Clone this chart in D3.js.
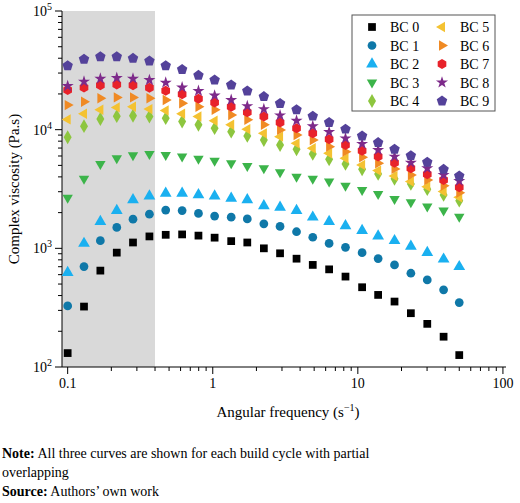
<!DOCTYPE html>
<html><head><meta charset="utf-8">
<script src="https://cdn.jsdelivr.net/npm/d3@7"></script>
<style>body{margin:0;background:#fff}svg{font-family:"Liberation Serif","Times New Roman",serif}</style>
</head><body>
<svg id="chart" width="520" height="503"></svg>
<script>
const freq = [0.1,0.1296,0.168,0.218,0.282,0.366,0.474,0.615,0.797,1.03,1.34,1.73,2.25,2.91,3.78,4.89,6.34,8.22,10.7,13.8,17.9,23.2,30.1,39.0,50.0];
const bc0 = [131,323,649,920,1120,1260,1300,1310,1280,1230,1150,1120,1000,908,818,725,665,578,470,405,356,284,231,180,126];
const bc1 = [327,702,1160,1500,1760,1940,2100,2080,1970,1870,1830,1770,1610,1530,1380,1240,1100,1020,920,820,725,617,542,447,349];
const bc2 = [625,1100,1680,2080,2560,2760,2910,2910,2820,2760,2640,2560,2280,2220,2080,1830,1680,1550,1410,1270,1160,1040,920,810,700];
const bc3 = [2670,3850,5140,5740,6080,6240,6120,5930,5700,5480,5210,4940,4730,4380,4020,3850,3650,3360,3100,2870,2610,2440,2250,2080,1850];
const bc4 = [8630,10700,12300,13000,13100,12900,12500,11700,11000,10300,9620,8850,8180,7430,6840,6240,5620,5140,4630,4240,3850,3490,3150,2820,2520];
const bc5 = [12200,13600,14700,15400,15600,14900,14500,13600,12900,11900,11000,10100,9310,8730,7670,6970,6320,5740,5050,4520,4070,3650,3310,3010,2690];
const bc6 = [16100,17200,18400,18700,18700,18400,17800,16700,15600,14700,13300,12100,11000,9950,9020,8180,7190,6530,5850,5210,4670,4150,3770,3360,2940];
const bc7 = [21600,22700,23700,24000,23700,22600,21300,19900,18200,16900,15600,14000,12900,11500,10300,9310,8300,7430,6650,5930,5270,4730,4210,3770,3270];
const bc8 = [23300,25400,26900,27300,26900,26200,24900,22700,21200,19400,17800,15800,14900,13200,11900,10700,9570,8450,7590,6750,5930,5270,4730,4150,3700];
const bc9 = [34600,39200,41200,41200,39900,37900,34600,32100,28700,26200,23800,21200,19000,16600,14700,13000,11500,10100,8850,7780,6840,6040,5310,4630,4070];
const seriesNames = ["BC 0","BC 1","BC 2","BC 3","BC 4","BC 5","BC 6","BC 7","BC 8","BC 9"];
const seriesValues = [bc0,bc1,bc2,bc3,bc4,bc5,bc6,bc7,bc8,bc9];
const colors = ["#000000","#0f78a8","#1ab0f0","#3cb44a","#8dc63f","#f4c232","#f08a24","#e8222a","#7d2a8a","#54429a"];
const xTicks = [0.1,1,10,100];
const yTicks = [100,1000,10000,100000];
const shadeEnd = 0.4;

const svg = d3.select("#chart");
const pl = 62, pr = 506, pt = 11, pb = 367;
const x = d3.scaleLog().domain([0.0914, 105]).range([pl, pr]);
const y = d3.scaleLog().domain([100, 100000]).range([pb, pt]);

svg.append("rect").attr("x", pl).attr("y", pt)
    .attr("width", x(shadeEnd) - pl).attr("height", pb - pt).attr("fill", "#d9d9d9");

// axes
const xMinor = [];
for (let e = -2; e <= 2; e++) for (let m = 1; m < 10; m++) { const v = +(m * Math.pow(10, e)).toPrecision(3); if (v >= 0.0914 && v <= 105) xMinor.push(v); }
const yMinor = [];
for (let e = 2; e <= 4; e++) for (let m = 1; m < 10; m++) yMinor.push(m * Math.pow(10, e));
yMinor.push(100000);

const gx = svg.append("g").attr("transform", `translate(0,${pb})`);
gx.append("line").attr("x1", pl).attr("x2", pr).attr("stroke", "#000");
gx.selectAll(".mi").data(xMinor).enter().append("line")
    .attr("x1", d => x(d)).attr("x2", d => x(d)).attr("y1", 0).attr("y2", d => xTicks.includes(d) ? 7 : 4).attr("stroke", "#000");
gx.selectAll("text").data(xTicks).enter().append("text")
    .attr("x", d => x(d)).attr("y", 21).attr("text-anchor", "middle").attr("font-size", 14).text(d => d);

const gy = svg.append("g");
gy.append("line").attr("x1", pl).attr("x2", pl).attr("y1", pt).attr("y2", pb).attr("stroke", "#000");
gy.selectAll(".mi").data(yMinor).enter().append("line")
    .attr("x1", pl).attr("x2", d => yTicks.includes(d) ? pl - 7 : pl - 4)
    .attr("y1", d => y(d)).attr("y2", d => y(d)).attr("stroke", "#000");
const yl = gy.selectAll("text").data(yTicks).enter().append("text")
    .attr("x", pl - 10).attr("y", d => y(d) + 5).attr("text-anchor", "end").attr("font-size", 14);
yl.append("tspan").text("10");
yl.append("tspan").attr("dy", -6).attr("font-size", 10).text(d => Math.round(Math.log10(d)));

// markers
const shapes = [
    d3.symbolSquare, d3.symbolCircle, d3.symbolTriangle, "down", d3.symbolDiamond,
    "left", "right", "hex", d3.symbolStar, "pent"
];
function poly(n, r, rot) {
    const p = [];
    for (let i = 0; i < n; i++) { const a = rot + i * 2 * Math.PI / n; p.push([r * Math.cos(a), r * Math.sin(a)]); }
    return "M" + p.map(q => q.join(",")).join("L") + "Z";
}
function markerPath(i) {
    const s = shapes[i];
    if (s === "down") return poly(3, 6, Math.PI / 2);
    if (s === "left") return poly(3, 6, Math.PI);
    if (s === "right") return poly(3, 6, 0);
    if (s === "hex") return poly(6, 5, Math.PI / 6);
    if (s === "pent") return poly(5, 5.5, -Math.PI / 2);
    if (s === d3.symbolDiamond) return d3.symbol().type(s).size(55)();
    if (s === d3.symbolStar) return d3.symbol().type(s).size(45)();
    return d3.symbol().type(s).size(60)();
}

seriesValues.forEach((vals, i) => {
    svg.append("g").selectAll("path").data(vals).enter().append("path")
        .attr("d", markerPath(i))
        .attr("transform", (d, j) => `translate(${x(freq[j])},${y(d)})`)
        .attr("fill", colors[i]);
});

// legend
const lg = svg.append("g");
lg.append("rect").attr("x", 352).attr("y", 15).attr("width", 143).attr("height", 96)
    .attr("fill", "#fff").attr("stroke", "#555");
seriesNames.forEach((n, i) => {
    const col = Math.floor(i / 5), row = i % 5;
    const gx0 = 372 + col * 70, gy0 = 27 + row * 18.5;
    lg.append("path").attr("d", markerPath(i)).attr("transform", `translate(${gx0},${gy0})`).attr("fill", colors[i]);
    lg.append("text").attr("x", gx0 + 18).attr("y", gy0 + 5).attr("font-size", 14).text(n);
});

// titles
svg.append("text").attr("transform", `translate(19,${(pt + pb) / 2}) rotate(-90)`)
    .attr("text-anchor", "middle").attr("font-size", 15).text("Complex viscosity (Pa.s)");
const xt = svg.append("text").attr("x", (pl + pr) / 2 + 4).attr("y", 417)
    .attr("text-anchor", "middle").attr("font-size", 15);
xt.append("tspan").text("Angular frequency (s");
xt.append("tspan").attr("dy", -6).attr("font-size", 10).text("−1");
xt.append("tspan").attr("dy", 6).text(")");

const n1 = svg.append("text").attr("x", 2).attr("y", 458).attr("font-size", 14);
n1.append("tspan").attr("font-weight", "bold").text("Note:");
n1.append("tspan").text(" All three curves are shown for each build cycle with partial");
svg.append("text").attr("x", 2).attr("y", 477).attr("font-size", 14).text("overlapping");
const n2 = svg.append("text").attr("x", 2).attr("y", 496).attr("font-size", 14);
n2.append("tspan").attr("font-weight", "bold").text("Source:");
n2.append("tspan").text(" Authors’ own work");
</script>
</body></html>
